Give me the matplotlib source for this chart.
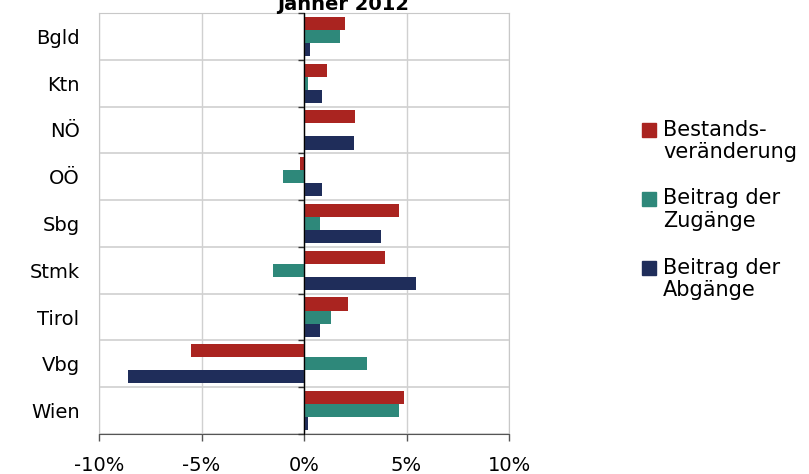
import numpy as np
import matplotlib
matplotlib.use("Agg")
import matplotlib.pyplot as plt
from matplotlib.patches import Rectangle
from matplotlib.ticker import FuncFormatter

laender = ["Bgld", "Ktn", "NÖ", "OÖ", "Sbg", "Stmk", "Tirol", "Vbg", "Wien"]
bestand = [1.98, 1.14, 2.50, -0.18, 4.63, 3.95, 2.16, -5.53, 4.88]
zugaenge = [1.74, 0.21, 0.0, -1.02, 0.80, -1.53, 1.32, 3.09, 4.63]
abgaenge = [0.29, 0.89, 2.42, 0.89, 3.77, 5.48, 0.80, -8.59, 0.21]
serien = ["Bestands-\nveränderung", "Beitrag der\nZugänge", "Beitrag der\nAbgänge"]
farben = ["#AA2420", "#2E887A", "#1F2D5A"]
xticks = [-10, -5, 0, 5, 10]

fs = 14
fig = plt.figure(figsize=(8.09, 4.74), dpi=100)
ax = fig.add_axes([99/809, 40/474, 410/809, 421/474])

y = np.arange(len(laender))
h = 0.28
for i, (vals, c) in enumerate(zip([bestand, zugaenge, abgaenge], farben)):
    ax.barh(y + (i - 1) * h, vals, height=h, color=c, zorder=3)

ax.set_xlim(-10, 10)
ax.set_ylim(len(laender) - 0.5, -0.5)
ax.set_xticks(xticks)
ax.xaxis.set_major_formatter(FuncFormatter(lambda v, p: f"{v:.0f}%"))
ax.set_yticks(y)
ax.set_yticklabels(laender)
ax.set_yticks(np.arange(len(laender) + 1) - 0.5, minor=True)
ax.tick_params(axis="y", which="both", length=0, pad=14, labelsize=fs)
ax.tick_params(axis="x", length=5, width=1, color="#555555", pad=11, labelsize=fs)
ax.grid(axis="x", color="#d0d0d0", lw=1, zorder=0)
ax.grid(axis="y", which="minor", color="#d0d0d0", lw=1.2, zorder=0)
for s in ["top", "right", "left"]:
    ax.spines[s].set_color("#c8c8c8")
ax.spines["bottom"].set_color("#555555")

# zero line with ticks
ax.axvline(0, color="#333333", lw=1, zorder=4)
sec = ax.secondary_yaxis(0.5)
sec.set_zorder(5)
sec.set_yticks(np.arange(len(laender) + 1) - 0.5)
sec.set_yticklabels([])
sec.tick_params(length=4, width=1, color="#333333", direction="in")
sec.spines["left"].set_color("#333333")

fig.text(343/809, 1 - 9.5/474, "Jänner 2012", ha="center", va="baseline",
         fontsize=fs, fontweight="bold")

# legend
for i, (lab, c) in enumerate(zip(serien, farben)):
    top = 122.5 + i * 69
    fig.patches.append(Rectangle((642/809, 1 - (top + 14)/474), 14/809, 14/474,
                                 transform=fig.transFigure, color=c))
    fig.text(663/809, 1 - (top - 3)/474, lab, ha="left", va="top",
             fontsize=15, linespacing=1.15)

fig.savefig("out.png", dpi=100)
